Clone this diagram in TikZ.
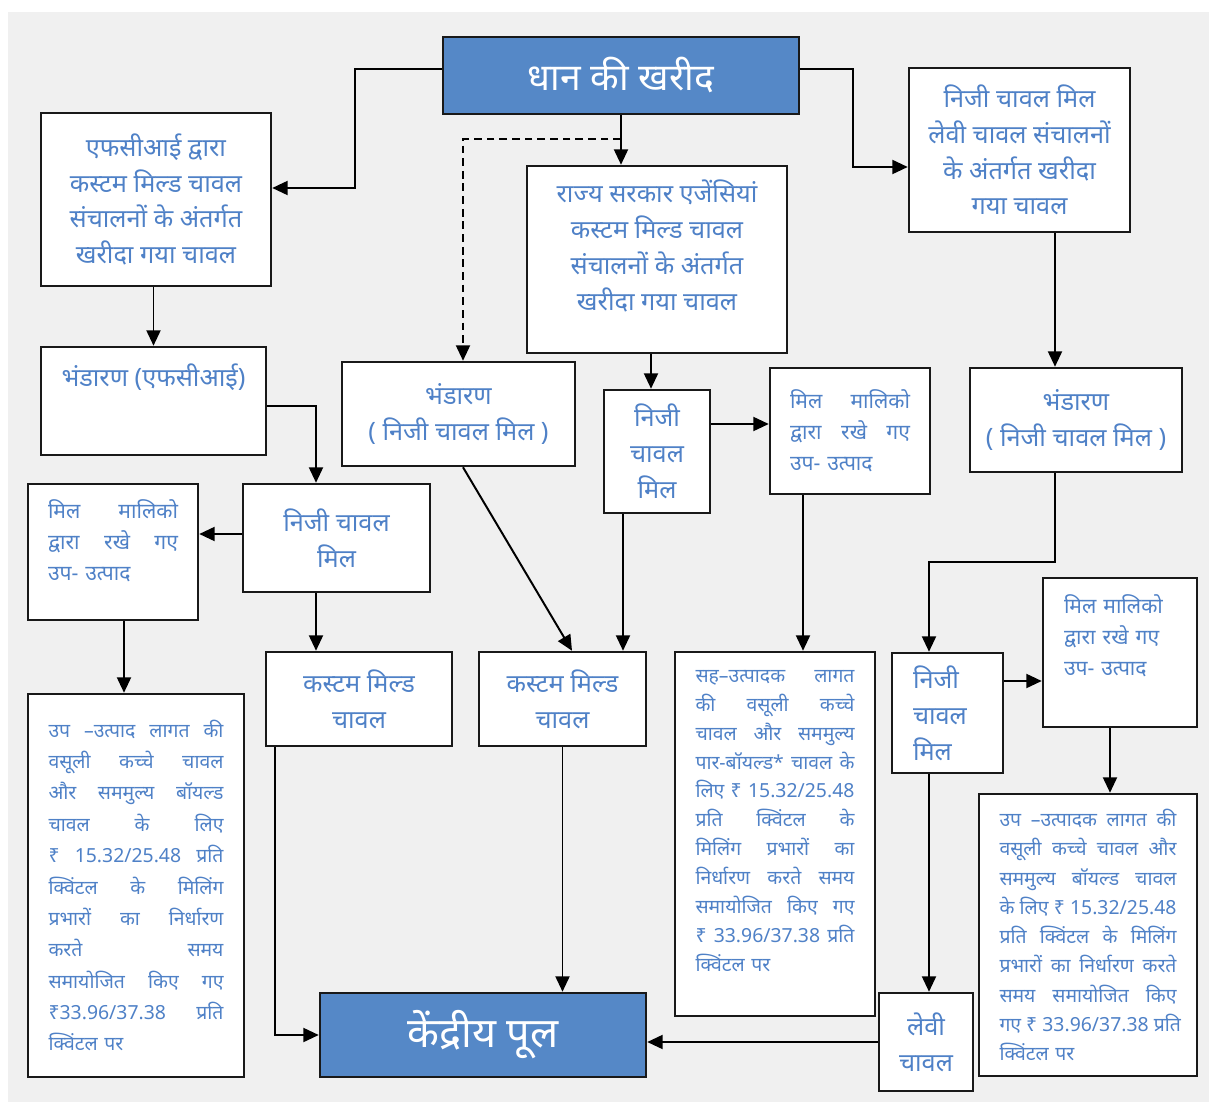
\documentclass[tikz,border=0pt]{standalone}
\usepackage{fontspec}
\newfontfamily\hindi[Script=Devanagari]{Noto Sans}
\usetikzlibrary{arrows.meta}
\definecolor{boxblue}{RGB}{85,136,199}
\definecolor{textblue}{RGB}{79,129,199}
\definecolor{panel}{RGB}{240,240,240}
\newcommand{\jl}[1]{{\spaceskip=\fontdimen2\font plus 1fil\makebox[\hsize][s]{#1}}}
\tikzset{
  box/.style={draw=black!90, line width=1.8pt, fill=white, inner sep=0pt},
  wd/.style={minimum width=#1*0.025cm},
  ht/.style={minimum height=#1*0.025cm},
  tw/.style={text width=#1*0.025cm},
  txt/.style={box, text=textblue, font=\hindi\fontsize{18}{25.5}\selectfont, align=center},
  head/.style={box, fill=boxblue, text=white, font=\hindi\fontsize{#1}{30}\selectfont},
  note/.style={box, text=textblue, font=\hindi\fontsize{13.8}{#1}\selectfont, align=left},
  note/.default=21,
  bynote/.style={box, text=textblue, font=\hindi\fontsize{15}{22}\selectfont, align=left},
  arrow/.style={line width=1.4pt, >={Triangle[length=11pt,width=10pt]}},
  post/.style={arrow, ->}
}

\begin{document}
\begin{tikzpicture}[x=0.025cm, y=-0.025cm]
  \useasboundingbox (0,0) rectangle (1209,1102);
  \fill[panel] (8,12) rectangle (1209,1102);

  % top row
  \node[head=26.5, wd=356, ht=77] (proc) at (621,75.5) {धान की खरीद};
  \node[txt, wd=230, ht=173] (fci) at (156,199.5)
    {एफसीआई द्वारा\\कस्टम मिल्ड चावल\\संचालनों के अंतर्गत\\खरीदा गया चावल};
  \node[txt, wd=260, ht=187] (state) at (657,259.5)
    {राज्य सरकार एजेंसियां\\कस्टम मिल्ड चावल\\संचालनों के अंतर्गत\\खरीदा गया चावल\\[-5.5pt]\mbox{}};
  \node[txt, wd=221, ht=164] (levyproc) at (1019.5,150)
    {निजी चावल मिल\\लेवी चावल संचालनों\\के अंतर्गत खरीदा\\गया चावल};

  % storage
  \node[txt, wd=225, ht=108] (storefci) at (153.5,401) {भंडारण (एफसीआई)\\[11pt]\mbox{}};
  \node[txt, wd=233, ht=104] (storemid) at (458.5,414) {भंडारण\\( निजी चावल मिल )};
  \node[txt, wd=212, ht=104] (storeright) at (1076,420) {भंडारण\\( निजी चावल मिल )};

  % mills and by-products
  \node[txt, wd=187, ht=108] (millleft) at (336.5,538) {निजी चावल\\मिल};
  \node[bynote, wd=170, ht=136, tw=130] (byleft) at (113,552)
    {\jl{मिल मालिको}\\\jl{द्वारा रखे गए}\\उप- उत्पाद\\[-5pt]\mbox{}};
  \node[txt, wd=106, ht=123] (millmid) at (657,451.5) {निजी\\चावल\\मिल};
  \node[bynote, wd=160, ht=126, tw=120] (bymid) at (850,431)
    {\jl{मिल मालिको}\\\jl{द्वारा रखे गए}\\उप- उत्पाद};
  \node[txt, align=left, wd=111, ht=120, tw=69] (millright) at (947.5,713) {निजी\\चावल\\मिल};
  \node[bynote, wd=154, ht=149, tw=112] (byright) at (1120,652.5)
    {मिल मालिको\\द्वारा रखे गए\\उप- उत्पाद\\[3pt]\mbox{}};

  % custom milled rice
  \node[txt, wd=186, ht=94] (custleft) at (359,699) {कस्टम मिल्ड\\चावल};
  \node[txt, wd=167, ht=94] (custmid) at (562.5,699) {कस्टम मिल्ड\\चावल};

  % cost notes
  \node[note=22.3, wd=216, ht=383, tw=175] (costleft) at (136,885.5)
    {\jl{उप –उत्पाद लागत की}\\\jl{वसूली कच्चे चावल}\\\jl{और सममुल्य बॉयल्ड}\\
     \jl{चावल के लिए}\\\jl{₹ 15.32/25.48 प्रति}\\\jl{क्विंटल के मिलिंग}\\
     \jl{प्रभारों का निर्धारण}\\\jl{करते समय}\\\jl{समायोजित किए गए}\\
     \jl{₹33.96/37.38 प्रति}\\क्विंटल पर};
  \node[note=20.6, wd=200, ht=364, tw=159] (costmid) at (775,834)
    {\jl{सह–उत्पादक लागत}\\\jl{की वसूली कच्चे}\\\jl{चावल और सममुल्य}\\
     \jl{पार-बॉयल्ड* चावल के}\\\jl{लिए ₹ 15.32/25.48}\\\jl{प्रति क्विंटल के}\\
     \jl{मिलिंग प्रभारों का}\\\jl{निर्धारण करते समय}\\\jl{समायोजित किए गए}\\
     \jl{₹ 33.96/37.38 प्रति}\\क्विंटल पर\\[-2pt]\mbox{}};
  \node[note=20.8, wd=218, ht=282, tw=177] (costright) at (1088,935)
    {\jl{उप –उत्पादक लागत की}\\\jl{वसूली कच्चे चावल और}\\\jl{सममुल्य बॉयल्ड चावल}\\
     \jl{के लिए ₹ 15.32/25.48}\\\jl{प्रति क्विंटल के मिलिंग}\\\jl{प्रभारों का निर्धारण करते}\\
     \jl{समय समायोजित किए}\\\jl{गए ₹ 33.96/37.38 प्रति}\\क्विंटल पर};

  % bottom
  \node[txt, wd=94, ht=98] (levy) at (926,1042) {लेवी\\चावल};
  \node[head=29.5, wd=326, ht=84] (pool) at (483,1035) {केंद्रीय पूल};

  % connectors
  \draw[post] (proc.west |- 0,69) -| (355,188) -- (fci.east |- 0,188);
  \draw[post] (proc.east |- 0,69) -| (853,167) -- (levyproc.west |- 0,167);
  \draw[post] (proc.south) -- (proc.south |- state.north);
  \draw[post, dash pattern={on 5.5pt off 3.5pt}] (proc.south |- 0,139) -| (storemid.north -| 463,0);
  \draw[post] (fci.south -| storefci.north) -- (storefci.north);
  \draw[post] (storefci.east |- 0,406) -| (millleft.north -| 316,0);
  \draw[post] (millleft.west |- 0,534) -- (byleft.east |- 0,534);
  \draw[post] (millleft.south -| 316,0) -- (custleft.north -| 316,0);
  \draw[post] (byleft.south -| 124,0) -- (costleft.north -| 124,0);
  \draw[post] (custleft.south -| 275,0) |- (pool.west);
  \draw[post] (storemid.south -| 463,0) -- (custmid.north -| 572,0);
  \draw[post] (state.south -| 651,0) -- (millmid.north -| 651,0);
  \draw[post] (millmid.east |- 0,424) -- (bymid.west |- 0,424);
  \draw[post] (millmid.south -| 623,0) -- (custmid.north -| 623,0);
  \draw[post] (bymid.south -| 803,0) -- (costmid.north -| 803,0);
  \draw[post] (custmid.south) -- (custmid.south |- pool.north);
  \draw[post] (levyproc.south -| 1055,0) -- (storeright.north -| 1055,0);
  \draw[post] (storeright.south -| 1055,0) |- (929,562) -- (millright.north -| 929,0);
  \draw[post] (millright.east |- 0,681) -- (byright.west |- 0,681);
  \draw[post] (byright.south -| 1110,0) -- (costright.north -| 1110,0);
  \draw[post] (millright.south -| 929,0) -- (levy.north -| 929,0);
  \draw[post] (levy.west) -- (levy.west -| pool.east);
\end{tikzpicture}
\end{document}
